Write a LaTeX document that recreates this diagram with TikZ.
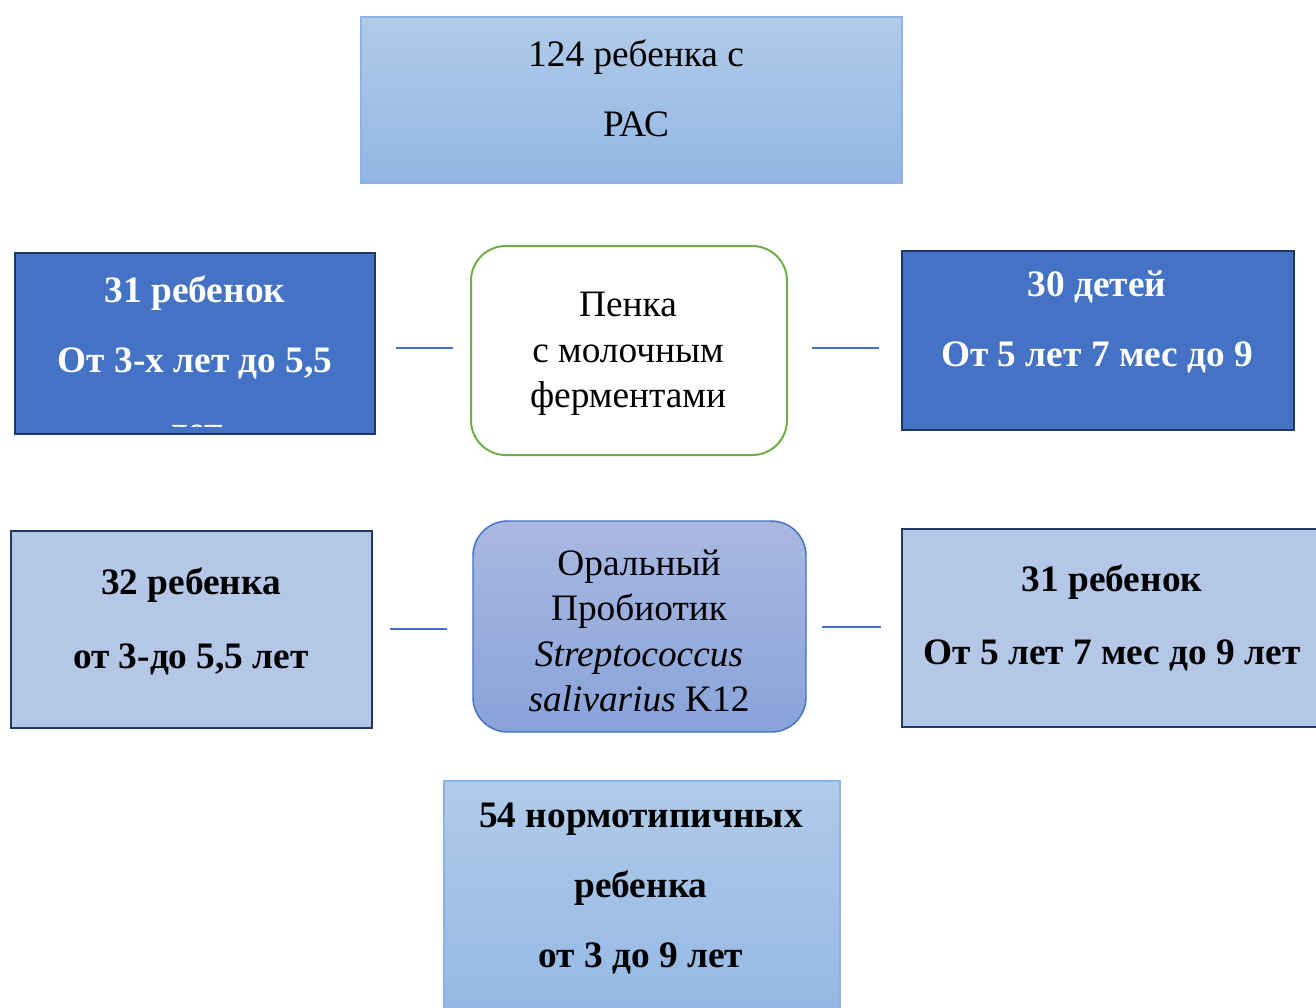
\documentclass[tikz,border=0pt]{standalone}
\usepackage{fontspec}
\setmainfont{Liberation Serif}
\usetikzlibrary{positioning,calc,fit}

\definecolor{darkblue}{HTML}{4472C4}
\definecolor{navy}{HTML}{203864}
\definecolor{paleblue}{HTML}{B4C7E7}
\definecolor{skytop}{HTML}{B1CBE9}
\definecolor{skybot}{HTML}{92B6E3}
\definecolor{skyline}{HTML}{8DB3E2}
\definecolor{probtop}{HTML}{A9B8E1}
\definecolor{probbot}{HTML}{89A3D9}
\definecolor{leafgreen}{HTML}{70AD47}

\begin{document}
\begin{tikzpicture}[x=0.75pt,y=0.75pt,yscale=-1,xscale=1,
		wide/.style={font=\fontsize{28}{52.5}\selectfont, align=center, inner sep=0pt},
		widebold/.style={font=\fontsize{28}{52.5}\selectfont\bfseries, align=center, inner sep=0pt},
		tight/.style={font=\fontsize{28}{34}\selectfont, align=center, inner sep=0pt},
		sky/.style={draw=skyline, line width=1.1pt, top color=skytop, bottom color=skybot, inner sep=0pt},
		group/.style={draw=navy, line width=1.9pt, inner sep=0pt},
		link/.style={draw=darkblue, line width=0.9pt}]
		\clip (0,0) rectangle (1316,1007);

		% boxes
		\node [sky, fit={(361,17) (902,183)}] (total) {};
		\node [group, fill=darkblue, fit={(15,253) (375,434)}] (lt) {};
		\node [draw=leafgreen, line width=1.5pt, fill=white, rounded corners=26pt, inner sep=0pt, fit={(471,246) (787,455)}] (mt) {};
		\node [group, fill=darkblue, fit={(902,251) (1294,430)}] (rt) {};
		\node [group, fill=paleblue, fit={(11,531) (372,728)}] (lb) {};
		\node [draw=darkblue, line width=1.1pt, top color=probtop, bottom color=probbot, rounded corners=26pt, inner sep=0pt, fit={(473,521) (806,732)}] (mb) {};
		\node [group, fill=paleblue, fit={(902,529) (1340,727)}] (rb) {};
		\node [sky, fit={(444,781) (840,1030)}] (norm) {};

		% texts
		\node [wide] (total-txt) at (636,88) {124 ребенка с\\РАС};
		\begin{scope}
			\clip (17,255) rectangle (373,426);
			\node [widebold, text=white] (lt-txt) at (195,359) {31 ребенок\\От 3-х лет до 5,5\\лет};
		\end{scope}
		\node [tight] (mt-txt) at (628,354) {Пенка\\с молочным\\ферментами};
		\node [widebold, text=white] (rt-txt) at (1097,322) {30 детей\\От 5 лет 7 мес до 9};
		\node [widebold] (lb-txt) at (191,621) {32 ребенка\\[3pt]от 3-до 5,5 лет};
		\node [tight] (mb-txt) at (639,631) {Оральный\\Пробиотик\\\textit{Streptococcus}\\\textit{salivarius} K12};
		\node [widebold] (rb-txt) at (1112,618) {31 ребенок\\[2pt]От 5 лет 7 мес до 9 лет};
		\node [widebold] (norm-txt) at (641,888) {54 нормотипичных\\ребенка\\от 3 до 9 лет};

		% short links
		\coordinate (l1a) at (396,348);
		\coordinate (l1b) at (453,348);
		\coordinate (r1a) at (812,348);
		\coordinate (r1b) at (879,348);
		\coordinate (l2a) at (390,629);
		\coordinate (l2b) at (447,629);
		\coordinate (r2a) at (822,627);
		\coordinate (r2b) at (881,627);
		\draw [link] (l1a) -- (l1b);
		\draw [link] (r1a) -- (r1b);
		\draw [link] (l2a) -- (l2b);
		\draw [link] (r2a) -- (r2b);
\end{tikzpicture}
\end{document}
